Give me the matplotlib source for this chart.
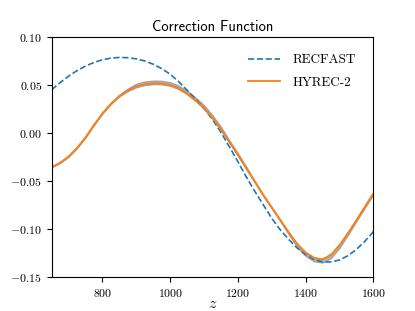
import numpy as np
import matplotlib
matplotlib.use('Agg')
import matplotlib.pyplot as plt
from matplotlib.ticker import FuncFormatter

plt.rcParams['mathtext.fontset'] = 'cm'

# redshift grid (step 25)
z = [650, 675, 700, 725, 750, 775, 800, 825, 850, 875, 900, 925, 950,
     975, 1000, 1025, 1050, 1075, 1100, 1125, 1150, 1175, 1200, 1225,
     1250, 1275, 1300, 1325, 1350, 1375, 1400, 1425, 1450, 1475, 1500,
     1525, 1550, 1575, 1600]

recfast = [0.045, 0.0525, 0.0592, 0.065, 0.0697, 0.0735, 0.0763, 0.078,
           0.0787, 0.0784, 0.0772, 0.075, 0.0716, 0.067, 0.0612, 0.0535,
           0.0445, 0.0355, 0.0255, 0.014, 0.0005, -0.0145, -0.030, -0.046,
           -0.061, -0.075, -0.089, -0.101, -0.111, -0.120, -0.127, -0.132,
           -0.1345, -0.1345, -0.1325, -0.128, -0.1215, -0.113, -0.103]

hyrec = [-0.0355, -0.031, -0.0245, -0.0155, -0.0045, 0.0085, 0.0205,
         0.0305, 0.0385, 0.0445, 0.0485, 0.0508, 0.0517, 0.0515, 0.050,
         0.0465, 0.041, 0.034, 0.026, 0.0155, 0.0035, -0.0095, -0.023,
         -0.037, -0.051, -0.065, -0.078, -0.091, -0.104, -0.116, -0.125,
         -0.1305, -0.1318, -0.127, -0.117, -0.1045, -0.091, -0.077, -0.063]

# spread of the sampled curves around HYREC-2 (below / above)
band_lo = [0.0005] * 9 + [0.001] * 19 + [0.002, 0.003] + [0.0035] * 4 + \
          [0.003, 0.002] + [0.0012] * 3
band_hi = [0.0005] * 7 + [0.001, 0.0015, 0.002] + [0.003] * 11 + \
          [0.002] * 3 + [0.001] * 15

yticks = [-0.15, -0.10, -0.05, 0.00, 0.05, 0.10]
xticks = [800, 1000, 1200, 1400, 1600]

z = np.array(z)
hyrec = np.array(hyrec)

fig = plt.figure(figsize=(4.15, 3.11), dpi=100)
ax = fig.add_axes([0.1246, 0.110, 0.775, 0.771])

ax.fill_between(z, hyrec - np.array(band_lo), hyrec + np.array(band_hi),
                color='gray', alpha=0.6, lw=0.8, edgecolor='gray')
ax.plot(z, recfast, ls='--', color='#1f77b4', lw=1.2, label='RECFAST')
ax.plot(z, hyrec, ls='-', color='#ff7f0e', lw=1.3, label='HYREC-2')

ax.set_xlim(650, 1600)
ax.set_ylim(-0.15, 0.10)
ax.set_xticks(xticks)
ax.set_yticks(yticks)
ax.xaxis.set_major_formatter(FuncFormatter(lambda v, p: '$%d$' % v))
ax.yaxis.set_major_formatter(FuncFormatter(lambda v, p: '$%.2f$' % v))
ax.tick_params(labelsize=8.5)

ax.set_xlabel('$z$', fontsize=11.5, labelpad=-2.5)
ax.set_title('Correction Function', fontfamily='cmss10', fontsize=10.5, pad=4)

leg = ax.legend(loc='upper right', frameon=False, handlelength=2.4,
                handletextpad=1.0, labelspacing=0.75, borderaxespad=0.9,
                prop={'family': 'cmr10', 'size': 9.5})

fig.savefig('out.png', dpi=100)
